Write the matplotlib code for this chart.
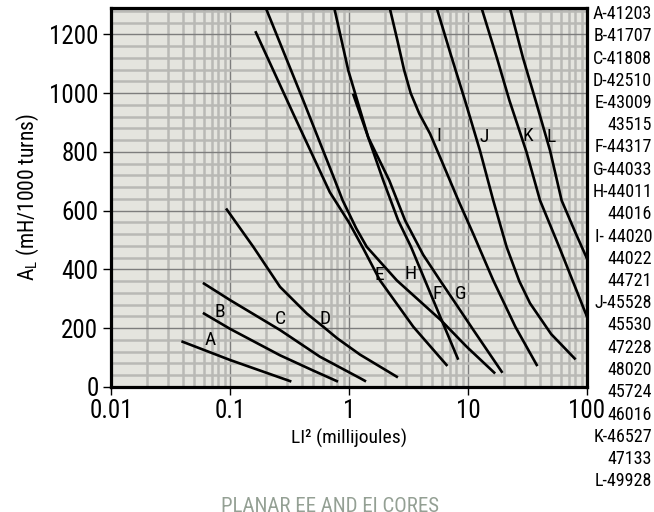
import matplotlib
matplotlib.use("Agg")
import matplotlib.pyplot as plt
from matplotlib import font_manager
from matplotlib.ticker import FixedLocator, FixedFormatter, NullFormatter

# pick a narrow face if one is installed
installed = {f.name for f in font_manager.fontManager.ttflist}
font_name = 'DejaVu Sans'
for cand in ['Liberation Sans Narrow', 'Roboto Condensed', 'Open Sans Condensed', 'Liberation Sans']:
    if cand in installed:
        font_name = cand
        break
plt.rcParams['font.family'] = [font_name, 'DejaVu Sans']

# curve data (LI^2 in mJ, AL in mH/1000 turns)
a_x = [0.04, 0.1, 0.32]
a_y = [154, 92, 20]
b_x = [0.0605, 0.1, 0.263, 0.5, 0.79]
b_y = [250, 198, 108, 56, 20]
c_x = [0.0605, 0.1, 0.263, 0.57, 1.24, 1.36]
c_y = [352, 296, 194, 103, 30, 21]
d_x = [0.094, 0.157, 0.263, 0.442, 0.608, 0.8, 1.24, 2.52]
d_y = [604, 477, 341, 250, 205, 165, 110, 35]
e_x = [0.165, 0.34, 0.69, 1.0, 1.32, 1.82, 3.47, 6.6]
e_y = [1207, 930, 663, 560, 471, 363, 205, 75]
f_x = [0.752, 0.987, 1.45, 1.94, 2.59, 3.32, 4.35, 6.0, 8.2]
f_y = [1290, 1077, 850, 703, 567, 477, 363, 228, 97]
g_x = [1.09, 1.45, 2.18, 2.96, 4.2, 5.82, 6.92, 11.1, 19.2]
g_y = [994, 850, 703, 567, 450, 363, 318, 194, 52]
h_x = [0.2, 0.413, 0.762, 0.885, 1.15, 1.41, 2.52, 5.9, 9.75, 16.6]
h_y = [1290, 975, 703, 635, 540, 477, 363, 228, 137, 49]
i_x = [2.2, 2.55, 2.9, 3.3, 3.9, 4.8, 6.0, 8.3, 11.1, 16.3, 25.0, 37.8]
i_y = [1290, 1180, 1080, 1000, 930, 862, 770, 635, 520, 363, 205, 75]
j_x = [5.46, 7.06, 9.44, 12.6, 16.3, 21.1, 27.0, 33.2, 50.0, 78.8]
j_y = [1290, 1140, 975, 805, 635, 477, 360, 285, 180, 97]
k_x = [13.0, 17.5, 22.3, 31.0, 40.3, 59.3, 100]
k_y = [1290, 1120, 975, 800, 635, 470, 239]
l_x = [22.5, 29.0, 37.0, 48.9, 61.2, 80.0, 100]
l_y = [1290, 1120, 975, 805, 635, 525, 437]

curves = [(a_x, a_y), (b_x, b_y), (c_x, c_y), (d_x, d_y), (e_x, e_y), (f_x, f_y),
          (g_x, g_y), (h_x, h_y), (i_x, i_y), (j_x, j_y), (k_x, k_y), (l_x, l_y)]

curve_letters = ['A', 'B', 'C', 'D', 'E', 'H', 'F', 'G', 'I', 'J', 'K', 'L']
letter_x = [0.068, 0.082, 0.263, 0.628, 1.8, 3.26, 5.52, 8.69, 5.74, 13.6, 32.1, 49.5]
letter_y = [160, 256, 233, 233, 380, 386, 318, 318, 856, 850, 856, 850]

part_numbers = ['A-41203', 'B-41707', 'C-41808', 'D-42510', 'E-43009', '43515',
                'F-44317', 'G-44033', 'H-44011', '44016', 'I- 44020', '44022',
                '44721', 'J-45528', '45530', '47228', '48020', '45724', '46016',
                'K-46527', '47133', 'L-49928']

x_ticks = [0.01, 0.1, 1, 10, 100]
x_tick_labels = ['0.01', '0.1', '1', '10', '100']
y_ticks = [0, 200, 400, 600, 800, 1000, 1200]

fig = plt.figure(figsize=(6.54, 5.12), dpi=100)
ax = fig.add_axes([111 / 654, 125 / 512, 476 / 654, 379 / 512])
ax.set_facecolor('#e4e4de')

ax.set_xscale('log')
ax.set_xlim(0.01, 100)
ax.set_ylim(0, 1290)

ax.xaxis.set_major_locator(FixedLocator(x_ticks))
ax.xaxis.set_major_formatter(FixedFormatter(x_tick_labels))
ax.xaxis.set_minor_locator(FixedLocator([m * d for d in [0.01, 0.1, 1, 10] for m in range(2, 10)]))
ax.xaxis.set_minor_formatter(NullFormatter())
ax.yaxis.set_major_locator(FixedLocator(y_ticks))
ax.yaxis.set_minor_locator(FixedLocator(list(range(40, 1290, 40))))

ax.grid(which='minor', color='#b9b9b5', lw=1.8, zorder=0)
ax.grid(which='major', color='#7d7d7d', lw=1.0, zorder=0)
ax.set_axisbelow(True)

for xs, ys in curves:
    ax.plot(xs, ys, color='black', lw=1.9, solid_joinstyle='round', zorder=3)

for letter, lx, ly in zip(curve_letters, letter_x, letter_y):
    ax.text(lx, ly, letter, fontsize=14, ha='center', va='center', zorder=4)

for side in ax.spines.values():
    side.set_linewidth(2.3)
ax.tick_params(which='major', direction='out', length=6, width=1.0, labelsize=18, pad=3)
ax.tick_params(which='minor', length=0)

ax.set_xlabel('LI² (millijoules)', fontsize=14, labelpad=4)
ax.set_ylabel(r'A$_\mathregular{L}$ (mH/1000 turns)', fontsize=15.5, labelpad=6)

for n, txt in enumerate(part_numbers):
    fig.text(0.997, 1 - (14 + n * 22.25) / 512, txt, fontsize=13, ha='right', va='center')

fig.text(330 / 654, 1 - 497 / 512, 'PLANAR EE AND EI CORES', fontsize=15,
         color='#94a094', ha='center', va='top')

fig.savefig('out.png', dpi=100)
